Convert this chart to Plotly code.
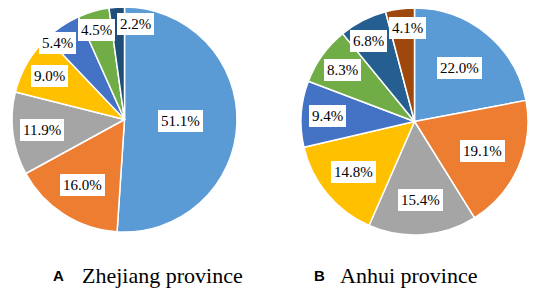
import math
import plotly.graph_objects as go

W, H = 536, 292

# ---- data ----
zj_values = [51.1, 16.0, 11.9, 9.0, 5.4, 4.5, 2.2]
ah_values = [22.0, 19.1, 15.4, 14.8, 9.4, 8.3, 6.8, 4.1]
zj_title = "Zhejiang province"
ah_title = "Anhui province"
panel_letters = ["A", "B"]

# ---- style ----
zj_colors = ["#5B9BD5", "#ED7D31", "#A5A5A5", "#FFC000", "#4472C4", "#70AD47", "#1F4E79"]
ah_colors = ["#5B9BD5", "#ED7D31", "#A5A5A5", "#FFC000", "#4472C4", "#70AD47", "#255E91", "#9E480E"]

# pie domains in pixels: (left, right, top, bottom)
zj_box = (12, 237, 7, 232)
ah_box = (301, 528, 8, 235)

LABEL_FONT = dict(family="Liberation Serif, Times New Roman, serif", size=15, color="black")


def dom(box):
    l, r, t, b = box
    return dict(x=[l / W, r / W], y=[1 - b / H, 1 - t / H])


def label_positions(values, box):
    l, r, t, b = box
    cx, cy = (l + r) / 2, (t + b) / 2
    rad = min(r - l, b - t) / 2
    total = sum(values)
    out = []
    cum = 0.0
    for v in values:
        share = v / total
        mid = (cum + v / 2) / total * 2 * math.pi
        cum += v
        frac = max(0.5, 0.88 - 1.2 * share)
        x = cx + rad * frac * math.sin(mid)
        y = cy - rad * frac * math.cos(mid)
        text = f"{v:.1f}%"
        w = 15 * (0.5 * (len(text) - 2) + 0.25 + 0.833) + 6
        out.append([x, y, w, 21, text])
    # simple collision resolving between labels (prefer sideways moves)
    gap = 2
    for _ in range(6):
        for i in range(len(out)):
            for j in range(i + 1, len(out)):
                a, c = out[i], out[j]
                ox = (a[2] + c[2]) / 2 + gap - abs(a[0] - c[0])
                oy = (a[3] + c[3]) / 2 + gap - abs(a[1] - c[1])
                if ox > 0 and oy > 0:
                    if ox < 2 * oy:
                        s = 1 if c[0] >= a[0] else -1
                        a[0] -= s * ox / 2
                        c[0] += s * ox / 2
                    else:
                        s = 1 if c[1] >= a[1] else -1
                        a[1] -= s * oy / 2
                        c[1] += s * oy / 2
    return out


fig = go.Figure()
for vals, cols, box in [(zj_values, zj_colors, zj_box), (ah_values, ah_colors, ah_box)]:
    fig.add_trace(go.Pie(
        values=vals,
        marker=dict(colors=cols, line=dict(color="white", width=1.5)),
        sort=False, direction="clockwise", rotation=0,
        textinfo="none", hoverinfo="skip", showlegend=False,
        domain=dom(box),
    ))

annotations = []
for vals, box in [(zj_values, zj_box), (ah_values, ah_box)]:
    for x, y, w, h, text in label_positions(vals, box):
        annotations.append(dict(
            x=x / W, y=1 - y / H, xref="paper", yref="paper",
            text=text, showarrow=False, font=LABEL_FONT,
            bgcolor="white", bordercolor="white", borderwidth=1, borderpad=2,
            xanchor="center", yanchor="middle",
        ))

cap_y = 1 - 275 / H
for letter, lx, title, tx in [(panel_letters[0], 58.5, zj_title, 80), (panel_letters[1], 319, ah_title, 338)]:
    annotations.append(dict(
        x=lx / W, y=cap_y, xref="paper", yref="paper", text=f"<b>{letter}</b>",
        showarrow=False, xanchor="center", yanchor="middle",
        font=dict(family="Liberation Sans, Arial, sans-serif", size=15, color="black"),
    ))
    annotations.append(dict(
        x=tx / W, y=cap_y, xref="paper", yref="paper", text=title,
        showarrow=False, xanchor="left", yanchor="middle",
        font=dict(family="Liberation Serif, Times New Roman, serif", size=22, color="black"),
    ))

fig.update_layout(
    width=W, height=H,
    margin=dict(l=0, r=0, t=0, b=0),
    paper_bgcolor="white", plot_bgcolor="white",
    annotations=annotations,
)

fig.write_html(
    "out.html",
    config={"displayModeBar": False},
    post_script="document.body.style.margin='0';document.body.style.overflow='hidden';",
)
